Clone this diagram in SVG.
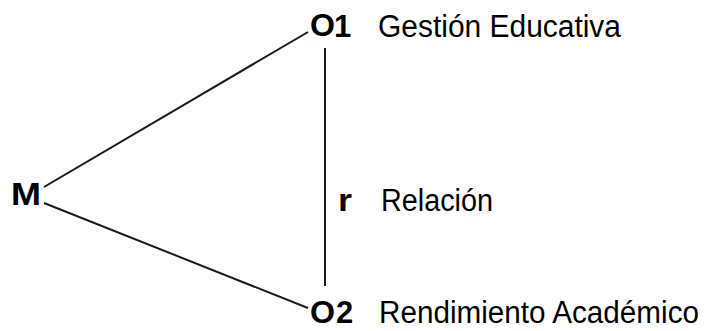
<svg xmlns="http://www.w3.org/2000/svg" width="710" height="331" viewBox="0 0 710 331">
<style>
.lbl{font-family:"Liberation Sans",Arial,sans-serif;font-size:31px;fill:#000}
.b{font-weight:bold}
.ln{stroke:#1a1a1a;stroke-width:2;fill:none}
</style>
<rect width="710" height="331" fill="#fff"/>
<g id="connectors">
<line class="ln" x1="44" y1="187" x2="308" y2="32"/>
<line class="ln" x1="44" y1="203" x2="308" y2="308"/>
<line class="ln" x1="325" y1="48" x2="325" y2="286" stroke-width="1.6"/>
</g>
<g id="node-M"><text class="lbl b" x="11" y="205" font-size="31" textLength="30" lengthAdjust="spacingAndGlyphs">M</text></g>
<g id="node-O1">
<text class="lbl b" x="310" y="36" font-size="38" textLength="25" lengthAdjust="spacingAndGlyphs">O</text>
<text class="lbl b" x="334" y="37" font-size="26">1</text>
<text class="lbl" x="378" y="37" textLength="243" lengthAdjust="spacingAndGlyphs">Gestión Educativa</text></g>
<g id="node-r"><text class="lbl b" x="338" y="211" font-size="38" textLength="14" lengthAdjust="spacingAndGlyphs">r</text>
<text class="lbl" x="381" y="211" font-size="28" textLength="112" lengthAdjust="spacingAndGlyphs">Relación</text></g>
<g id="node-O2">
<text class="lbl b" x="310" y="323" font-size="38" textLength="25" lengthAdjust="spacingAndGlyphs">O</text>
<text class="lbl b" x="336" y="323" font-size="26">2</text>
<text class="lbl" x="379" y="323" font-size="29" textLength="320" lengthAdjust="spacingAndGlyphs">Rendimiento Académico</text></g>
</svg>
